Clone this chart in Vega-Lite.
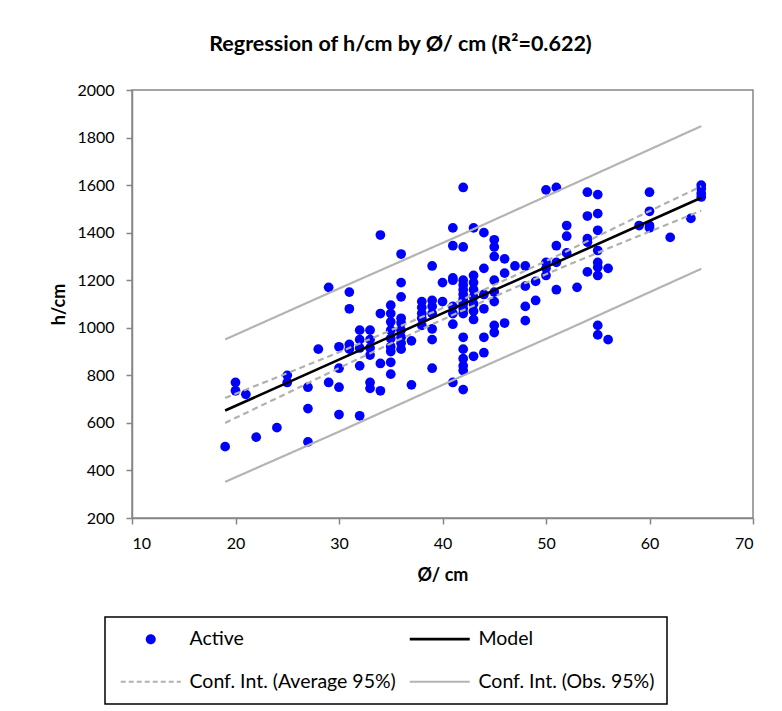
{
  "$schema": "https://vega.github.io/schema/vega-lite/v6.json",
  "width": 621,
  "height": 428,
  "autosize": {"type": "none"},
  "padding": {"left": 132, "top": 90, "right": 29, "bottom": 193},
  "background": "white",
  "title": {"text": "Regression of h/cm by Ø/ cm (R²=0.622)", "font": "Lato", "fontSize": 21.5, "fontWeight": "bold", "color": "black", "anchor": "middle", "dx": -42, "offset": 27},
  "config": {
    "view": {"stroke": "#868686", "strokeWidth": 1.5},
    "font": "Lato",
    "axis": {"domainColor": "#868686", "domainWidth": 1.5, "tickColor": "#868686", "tickWidth": 1.5, "tickSize": 6, "labelFont": "Lato", "labelFontSize": 16, "labelColor": "black", "titleFont": "Lato", "titleFontSize": 18, "titleFontWeight": "bold", "titleColor": "black", "grid": false}
  },
  "datasets": {
    "pts": [
      {"d":19,"h":500},
      {"d":20,"h":770},{"d":20,"h":735},
      {"d":21,"h":720},
      {"d":22,"h":540},
      {"d":24,"h":580},
      {"d":25,"h":800},{"d":25,"h":770},
      {"d":27,"h":750},{"d":27,"h":660},{"d":27,"h":520},
      {"d":28,"h":910},
      {"d":29,"h":1170},{"d":29,"h":770},
      {"d":30,"h":920},{"d":30,"h":830},{"d":30,"h":750},{"d":30,"h":635},
      {"d":31,"h":1150},{"d":31,"h":1080},{"d":31,"h":930},{"d":31,"h":910},
      {"d":32,"h":990},{"d":32,"h":950},{"d":32,"h":915},{"d":32,"h":840},{"d":32,"h":630},
      {"d":33,"h":990},{"d":33,"h":950},{"d":33,"h":915},{"d":33,"h":885},{"d":33,"h":770},{"d":33,"h":745},
      {"d":34,"h":1390},{"d":34,"h":1060},{"d":34,"h":850},{"d":34,"h":735},
      {"d":35,"h":1095},{"d":35,"h":1060},{"d":35,"h":1025},{"d":35,"h":990},{"d":35,"h":955},{"d":35,"h":920},{"d":35,"h":900},{"d":35,"h":855},{"d":35,"h":805},
      {"d":36,"h":1310},{"d":36,"h":1190},{"d":36,"h":1130},{"d":36,"h":1040},{"d":36,"h":1020},{"d":36,"h":990},{"d":36,"h":960},{"d":36,"h":935},{"d":36,"h":910},
      {"d":37,"h":945},{"d":37,"h":760},
      {"d":38,"h":1110},{"d":38,"h":1085},{"d":38,"h":1060},{"d":38,"h":1040},{"d":38,"h":1010},
      {"d":39,"h":1260},{"d":39,"h":1115},{"d":39,"h":1090},{"d":39,"h":1060},{"d":39,"h":995},{"d":39,"h":950},{"d":39,"h":830},
      {"d":40,"h":1190},{"d":40,"h":1110},
      {"d":41,"h":1420},{"d":41,"h":1345},{"d":41,"h":1210},{"d":41,"h":1200},{"d":41,"h":1090},{"d":41,"h":1060},{"d":41,"h":1015},{"d":41,"h":770},
      {"d":42,"h":1590},{"d":42,"h":1340},{"d":42,"h":1200},{"d":42,"h":1180},{"d":42,"h":1160},{"d":42,"h":1140},{"d":42,"h":1120},{"d":42,"h":1100},{"d":42,"h":1080},{"d":42,"h":1060},{"d":42,"h":960},{"d":42,"h":910},{"d":42,"h":870},{"d":42,"h":840},{"d":42,"h":820},{"d":42,"h":740},
      {"d":43,"h":1420},{"d":43,"h":1220},{"d":43,"h":1190},{"d":43,"h":1160},{"d":43,"h":1130},{"d":43,"h":1100},{"d":43,"h":1070},{"d":43,"h":1035},{"d":43,"h":880},
      {"d":44,"h":1400},{"d":44,"h":1250},{"d":44,"h":1140},{"d":44,"h":1080},{"d":44,"h":960},{"d":44,"h":895},
      {"d":45,"h":1370},{"d":45,"h":1340},{"d":45,"h":1300},{"d":45,"h":1200},{"d":45,"h":1150},{"d":45,"h":1110},{"d":45,"h":1010},{"d":45,"h":980},
      {"d":46,"h":1290},{"d":46,"h":1230},{"d":46,"h":1020},
      {"d":47,"h":1260},
      {"d":48,"h":1260},{"d":48,"h":1175},{"d":48,"h":1090},{"d":48,"h":1030},
      {"d":49,"h":1195},{"d":49,"h":1115},
      {"d":50,"h":1580},{"d":50,"h":1275},{"d":50,"h":1250},{"d":50,"h":1220},
      {"d":51,"h":1590},{"d":51,"h":1345},{"d":51,"h":1275},{"d":51,"h":1160},
      {"d":52,"h":1430},{"d":52,"h":1385},{"d":52,"h":1315},
      {"d":53,"h":1170},
      {"d":54,"h":1570},{"d":54,"h":1470},{"d":54,"h":1375},{"d":54,"h":1360},{"d":54,"h":1235},
      {"d":55,"h":1560},{"d":55,"h":1480},{"d":55,"h":1410},{"d":55,"h":1325},{"d":55,"h":1275},{"d":55,"h":1255},{"d":55,"h":1220},{"d":55,"h":1010},{"d":55,"h":970},
      {"d":56,"h":1250},{"d":56,"h":950},
      {"d":59,"h":1430},
      {"d":60,"h":1570},{"d":60,"h":1490},{"d":60,"h":1430},{"d":60,"h":1420},
      {"d":62,"h":1380},
      {"d":64,"h":1460},
      {"d":65,"h":1600},{"d":65,"h":1585},{"d":65,"h":1565},{"d":65,"h":1550}
    ],
    "model": [
      {"s":"Model","g":"m","d":19,"h":652},{"s":"Model","g":"m","d":65,"h":1547}
    ],
    "ci": [
      {"s":"Conf. Int. (Average 95%)","g":"au","d":19,"h":705},
      {"s":"Conf. Int. (Average 95%)","g":"au","d":25,"h":809},
      {"s":"Conf. Int. (Average 95%)","g":"au","d":30,"h":897},
      {"s":"Conf. Int. (Average 95%)","g":"au","d":36,"h":1008},
      {"s":"Conf. Int. (Average 95%)","g":"au","d":42,"h":1120},
      {"s":"Conf. Int. (Average 95%)","g":"au","d":48,"h":1240},
      {"s":"Conf. Int. (Average 95%)","g":"au","d":52,"h":1322},
      {"s":"Conf. Int. (Average 95%)","g":"au","d":58,"h":1449},
      {"s":"Conf. Int. (Average 95%)","g":"au","d":65,"h":1595},
      {"s":"Conf. Int. (Average 95%)","g":"al","d":19,"h":600},
      {"s":"Conf. Int. (Average 95%)","g":"al","d":25,"h":725},
      {"s":"Conf. Int. (Average 95%)","g":"al","d":30,"h":831},
      {"s":"Conf. Int. (Average 95%)","g":"al","d":36,"h":954},
      {"s":"Conf. Int. (Average 95%)","g":"al","d":42,"h":1074},
      {"s":"Conf. Int. (Average 95%)","g":"al","d":48,"h":1188},
      {"s":"Conf. Int. (Average 95%)","g":"al","d":52,"h":1262},
      {"s":"Conf. Int. (Average 95%)","g":"al","d":58,"h":1369},
      {"s":"Conf. Int. (Average 95%)","g":"al","d":65,"h":1492},
      {"s":"Conf. Int. (Obs. 95%)","g":"ou","d":19,"h":951},
      {"s":"Conf. Int. (Obs. 95%)","g":"ou","d":30,"h":1165},
      {"s":"Conf. Int. (Obs. 95%)","g":"ou","d":42,"h":1395},
      {"s":"Conf. Int. (Obs. 95%)","g":"ou","d":52,"h":1592},
      {"s":"Conf. Int. (Obs. 95%)","g":"ou","d":65,"h":1848},
      {"s":"Conf. Int. (Obs. 95%)","g":"ol","d":19,"h":352},
      {"s":"Conf. Int. (Obs. 95%)","g":"ol","d":30,"h":563},
      {"s":"Conf. Int. (Obs. 95%)","g":"ol","d":42,"h":799},
      {"s":"Conf. Int. (Obs. 95%)","g":"ol","d":52,"h":992},
      {"s":"Conf. Int. (Obs. 95%)","g":"ol","d":65,"h":1248}
    ]
  },
  "encoding": {
    "x": {"field": "d", "type": "quantitative", "scale": {"domain": [10, 70], "nice": false}, "axis": {"values": [10, 20, 30, 40, 50, 60, 70], "title": "Ø/ cm", "labelPadding": 11, "titlePadding": 15}},
    "y": {"field": "h", "type": "quantitative", "scale": {"domain": [200, 2000], "nice": false}, "axis": {"values": [200, 400, 600, 800, 1000, 1200, 1400, 1600, 1800, 2000], "format": "d", "title": "h/cm", "labelPadding": 12, "titlePadding": 8}}
  },
  "layer": [
    {
      "data": {"name": "pts"},
      "mark": {"type": "circle", "size": 95, "opacity": 1},
      "encoding": {"color": {"datum": "Active", "type": "nominal"}}
    },
    {
      "data": {"name": "model"},
      "mark": {"type": "line", "strokeWidth": 2.6},
      "encoding": {
        "color": {"field": "s", "type": "nominal"}
      }
    },
    {
      "data": {"name": "ci"},
      "mark": {"type": "line", "strokeWidth": 2.2},
      "encoding": {
        "detail": {"field": "g"},
        "color": {"field": "s", "type": "nominal",
          "scale": {"domain": ["Active", "Conf. Int. (Average 95%)", "Model", "Conf. Int. (Obs. 95%)"], "range": ["#0000ff", "#b0b0b0", "#000000", "#b4b4b4"]},
          "legend": {"orient": "none", "legendX": -27, "legendY": 527, "columns": 2, "title": null, "symbolSize": 100, "labelFontSize": 19.5, "labelFont": "Lato", "labelColor": "black", "labelLimit": 400, "strokeColor": "black", "padding": 12, "columnPadding": 8, "rowPadding": 22, "labelOffset": 53, "symbolStrokeWidth": 2,
            "encode": {
              "legend": {"update": {"strokeWidth": {"value": 1.5}}},
              "symbols": {"update": {
              "shape": {"signal": "datum.value === 'Active' ? 'M3.8,0A1,1 0 1,1 5.8,0A1,1 0 1,1 3.8,0Z' : 'M-1.2,0H10.8'"},
              "fill": {"signal": "datum.value === 'Active' ? '#0000ff' : 'transparent'"},
              "strokeDash": {"signal": "datum.value === 'Conf. Int. (Average 95%)' ? [5,3] : [1,0]"},
              "strokeWidth": {"signal": "datum.value === 'Model' ? 2.6 : datum.value === 'Active' ? 0 : 2"},
              "opacity": {"value": 1}
            }}}}
        },
        "strokeDash": {"field": "s", "type": "nominal", "scale": {"domain": ["Conf. Int. (Average 95%)", "Conf. Int. (Obs. 95%)"], "range": [[6, 4], [1, 0]]}, "legend": null}
      }
    }
  ]
}
